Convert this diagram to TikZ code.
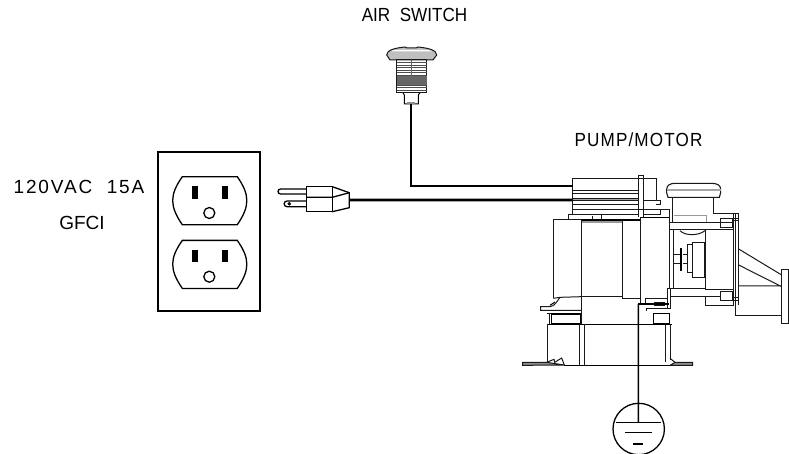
\documentclass[tikz,border=0pt]{standalone}
\usepackage{fontspec}
\setmainfont{Liberation Sans}
\newfontfamily\narrowfont{Liberation Sans}[FakeStretch=0.9]
\tikzset{
  label text/.style={inner sep=0pt,font=\narrowfont\fontsize{19}{21}\selectfont},
  outline/.style={line width=1.3pt},
  wire/.style={line width=2.8pt},
  part/.style={line width=1pt,black!90},
  heavy/.style={line width=1.6pt,black},
  pale/.style={line width=1.4pt,black!40}
}
\begin{document}
\begin{tikzpicture}[x=1pt,y=-1pt]
      \useasboundingbox (0,0) rectangle (789,454);
      \draw
        (414.5,14.5) node[label text] (air){AIR\ \ SWITCH}
        (638.5,140) node[label text] (pump){\addfontfeature{LetterSpace=6}PUMP/MOTOR}
        (79,187) node[label text,font=\fontsize{19}{21}\selectfont] (volt){\addfontfeature{LetterSpace=10}120VAC\ \ 15A}
        (82,223) node[label text,font=\fontsize{19}{21}\selectfont] (gfci){GFCI};
      % outlet
      \draw[outline,line width=1.7pt] (158.3,151.7) rectangle (260,311);
      \foreach \dy in {0,63.7} {
        \begin{scope}[yshift=-\dy pt]
          \draw[outline] (182.3,176.7) -- (237.3,176.7) .. controls (250,195) and (250,206) .. (237.3,224.7)
            -- (182.3,224.7) .. controls (169.5,206) and (169.5,195) .. (182.3,176.7) -- cycle;
          \fill (192.3,186) rectangle (197.7,198.7);
          \fill (221.7,186) rectangle (227.7,198.7);
          \draw[outline] (209.3,213) circle (5.5);
        \end{scope}
      }
      % plug
      \draw[outline] (306.7,186.7) rectangle (332.3,211.7);
      \draw[outline] (306.7,197.3) -- (332.3,197.3) -- (349.3,192.7);
      \draw[outline] (332.3,186.7) -- (349.3,192.7) -- (349.3,207.7) -- (332.3,211.7);
      \draw[outline] (306.7,189) -- (280.5,189) arc (270:90:2.5) -- (306.7,194);
      \draw[outline] (306.7,201) -- (287,201) arc (270:90:2.85) -- (306.7,206.7);
      \draw[line width=1pt] (289.3,203.8) circle (1.2);
      \coordinate (plugend) at (349.3,200);
      % air switch
      \draw[part,fill=black!25,line width=1pt] (386.7,55) .. controls (386.7,50) and (395,48) .. (405,47)
        -- (407,48) -- (407,48) -- (416,48) -- (418,47) .. controls (428,48) and (436.7,50) .. (436.7,55)
        -- (433,60) -- (390,60) -- cycle;
      \fill[white] (392,50.5) .. controls (400,49.5) and (423,49.5) .. (431,50.5) -- (431,51.5) -- (392,51.5) -- cycle;
      \draw[part,line width=1pt] (396.7,60) rectangle (426.7,92.7);
      \foreach \ty in {62.5,65,...,90} {
        \draw[black!70,line width=0.7pt] (396.7,\ty) -- (426.7,\ty);
      }
      \fill[black!60] (396.7,76) rectangle (426.7,85);
      \draw[black!60,line width=0.7pt] (411.5,60) -- (411.5,85);
      \draw[outline,line width=1pt] (403,92.7) -- (404.3,95) -- (404.3,104) -- (418.3,104) -- (418.3,95) -- (420,92.7);
      \fill[black!45] (407,102) rectangle (415,104.5);
      \coordinate (switchend) at (411,104);
      % pump
      \begin{scope}[shift={(510,150)},scale=1/3]
        % control box
        \draw[part] (188,195) -- (188,85) -- (438,85) -- (438,152) -- (450,152) -- (450,165) -- (438,165);
        \draw[part] (188,122) -- (386,122) (188,130) -- (386,130) (188,165) -- (386,165) (188,180) -- (386,180) (188,195) -- (386,195);
        \fill[black!35] (188,145) rectangle (386,153);
        \draw[part] (188,145) -- (386,145) (188,153) -- (386,153);
        \draw[part] (386,200) -- (386,78) -- (400,78) -- (400,200);
        \draw[part] (400,152) -- (438,152) (386,178) -- (478,178) -- (478,200) (450,178) -- (450,195) (400,195) -- (450,195);
        \draw[part] (175,210) -- (175,195) -- (275,195) -- (275,210) (248,197) -- (248,210);
        % motor
        \draw[part] (130,445) -- (130,210) -- (215,210) -- (215,522);
        \draw[heavy,line width=1.1pt] (215,210) -- (392,210);
        \draw[pale] (215,216) -- (338,216);
        \draw[part] (338,210) -- (338,445) -- (392,445) (215,440) -- (338,440);
        \draw[part] (130,445) -- (150,442) -- (215,440);
        \draw[part] (150,442) .. controls (140,455) and (135,468) .. (120,470) -- (92,470) -- (92,481) -- (215,481);
        \draw[heavy,line width=1.1pt] (120,466) -- (135,456);
        % housing
        \draw[heavy,line width=1.1pt] (392,202) -- (478,202);
        \draw[part] (392,202) -- (392,462) (478,185) -- (478,415);
        \draw[part] (405,462) -- (405,445) -- (472,445) -- (472,415) -- (480,415) -- (480,475) -- (410,475) -- (410,482);
        \draw[part] (472,445) -- (472,475);
        \draw[part] (432,458) rectangle (462,468);
        \draw[heavy] (385,462) -- (478,462);
        % feet
        \draw[part] (112,490) -- (215,490) (430,490) -- (480,490);
        \draw[part] (118,490) -- (118,522);
        \draw[heavy] (125,492) rectangle (212,522);
        \draw[heavy,line width=1.1pt] (430,490) rectangle (478,522);
        \draw[heavy] (112,523) -- (485,523);
        \draw[part] (112,523) -- (112,637) (208,523) -- (208,645) (222,523) -- (222,645) (466,523) -- (466,637) (480,523) -- (480,630);
        \draw[part] (110,637) -- (132,628) -- (134,637) -- (155,624) -- (163,645) (480,625) -- (495,637);
        \draw[part,fill=black!45] (38,637) -- (110,637) -- (163,645) -- (38,646) -- cycle;
        \draw[part,fill=black!45] (495,637) -- (548,637) -- (548,646) -- (480,646) -- cycle;
        \draw[heavy,line width=1pt] (163,646) -- (480,646);
        % dome
        \draw[part,line width=1.1pt] (470,118) .. controls (470,105) and (482,100) .. (495,100) -- (605,100) .. controls (620,100) and (632,105) .. (632,118)
          -- (632,128) -- (628,142) -- (474,142) -- (470,128) -- cycle;
        \fill[black!35] (470,116) rectangle (632,123);
        \draw[part] (488,142) -- (488,218) (610,142) -- (610,192) -- (670,192);
        \draw[pale,line width=0.9pt] (492,195) -- (590,195) -- (590,215);
        % volute
        \draw[part] (480,218) -- (670,218) (480,240) -- (670,240);
        \draw[part] (480,415) -- (585,415) (480,440) -- (585,440) -- (585,467) -- (670,467) (585,440) -- (632,440);
        \draw[part] (490,240) -- (490,415) (585,240) -- (585,418) -- (670,418);
        \draw[part] (510,242) .. controls (525,258) and (565,258) .. (585,242);
        % shaft
        \draw[part] (490,315) -- (510,315) (490,340) -- (510,340) (518,315) -- (533,315) (518,340) -- (533,340);
        \draw[heavy,line width=1.3pt] (513,293) -- (513,362);
        \draw[part] (548,285) -- (533,285) -- (533,368) -- (548,368);
        \draw[part,line width=1.1pt] (548,277) rectangle (585,382);
        % flange
        \draw[part] (632,205) rectangle (668,232);
        \draw[part] (632,425) rectangle (668,452);
        \draw[part] (670,192) -- (670,467) (677,192) -- (677,498) -- (815,498) (686,192) -- (686,465) (670,192) -- (686,192);
        \draw[part] (668,205) -- (688,205) (668,212) -- (688,212) (668,442) -- (688,442) (668,452) -- (688,452);
        % discharge
        \draw[part] (686,297) -- (815,375) (686,345) -- (815,410) (686,408) -- (815,408);
        \draw[part,line width=1.1pt] (815,358) rectangle (835,520);
        \coordinate (boxtop) at (188,108);
        \coordinate (boxlow) at (188,150);
        \coordinate (bond) at (385,462);
      \end{scope}
      % ground
      \draw[outline] (638.7,429) circle (25.7);
      \draw[outline] (616,422.3) -- (660.7,422.3);
      \draw[outline,line width=1.5pt] (625,432.7) -- (651.7,432.7);
      \draw[outline,line width=1.5pt] (633.3,444) -- (643.3,444);
      \coordinate (earth) at (638.4,422.3);
      % wires
      \begin{scope}[-]
        \draw[wire] (switchend) |- (boxtop);
        \draw[wire] (plugend) -- (boxlow);
        \draw[heavy] (bond) -- (earth);
      \end{scope}
    \end{tikzpicture}
\end{document}
